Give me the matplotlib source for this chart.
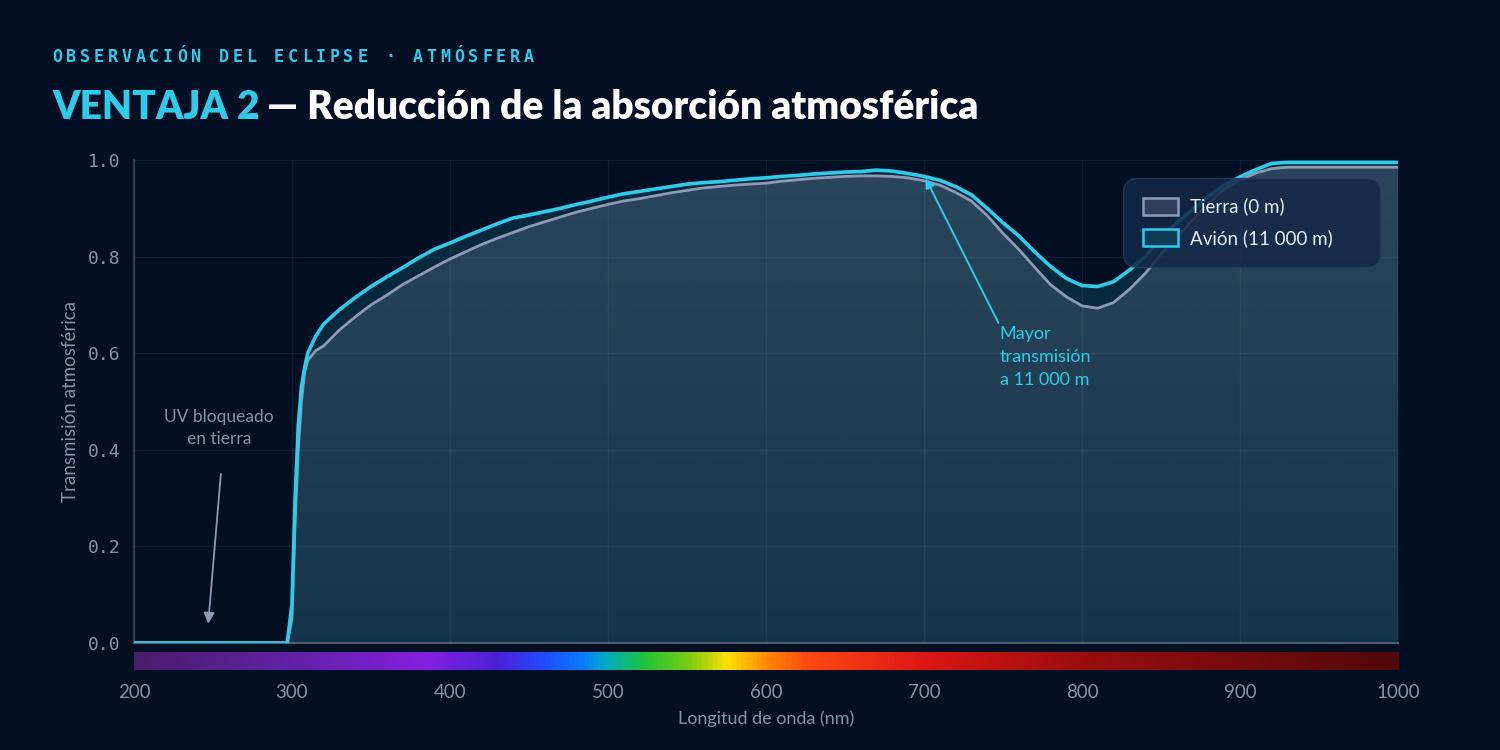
import matplotlib
matplotlib.use("Agg")
import matplotlib.pyplot as plt
import numpy as np
from matplotlib.colors import LinearSegmentedColormap, to_rgb
from matplotlib.patches import Patch

# ---- data ----
wavelength = [200, 290, 297, 300, 302, 304, 306, 308, 310, 315, 320, 330, 340, 350, 360, 370, 380, 390,
              400, 410, 420, 430, 440, 450, 460, 470, 480, 490, 500, 510, 520, 530, 540, 550, 560, 570,
              580, 590, 600, 610, 620, 630, 640, 650, 660, 670, 680, 690, 700, 710, 720, 730, 740, 750,
              760, 770, 780, 790, 800, 810, 820, 830, 840, 850, 860, 870, 880, 890, 900, 910, 920, 930,
              950, 1000]
avion = [0, 0, 0, 0.08, 0.30, 0.45, 0.53, 0.57, 0.60, 0.635, 0.66, 0.69, 0.715, 0.738, 0.758, 0.777, 0.797, 0.815,
         0.828, 0.842, 0.855, 0.868, 0.880, 0.886, 0.893, 0.900, 0.908, 0.915, 0.923, 0.930, 0.935, 0.940, 0.945, 0.950, 0.953, 0.955,
         0.958, 0.961, 0.963, 0.966, 0.968, 0.971, 0.973, 0.975, 0.976, 0.979, 0.977, 0.972, 0.966, 0.958, 0.945, 0.928, 0.900, 0.870,
         0.843, 0.810, 0.780, 0.755, 0.740, 0.738, 0.748, 0.772, 0.800, 0.838, 0.870, 0.897, 0.925, 0.948, 0.965, 0.980, 0.993, 0.995,
         0.995, 0.995]
tierra = [0, 0, 0, 0.05, 0.25, 0.40, 0.50, 0.56, 0.585, 0.605, 0.615, 0.648, 0.675, 0.700, 0.720, 0.742, 0.760, 0.778,
          0.795, 0.810, 0.825, 0.838, 0.850, 0.862, 0.872, 0.882, 0.892, 0.900, 0.908, 0.915, 0.920, 0.926, 0.932, 0.937, 0.942, 0.945,
          0.948, 0.950, 0.952, 0.956, 0.959, 0.962, 0.964, 0.966, 0.967, 0.967, 0.966, 0.963, 0.957, 0.948, 0.933, 0.915, 0.885, 0.848,
          0.815, 0.778, 0.742, 0.717, 0.698, 0.693, 0.705, 0.732, 0.765, 0.805, 0.840, 0.875, 0.910, 0.940, 0.958, 0.973, 0.982, 0.985,
          0.985, 0.985]
series_labels = ["Tierra (0 m)", "Avión (11\u202f000 m)"]
x_ticks = [200, 300, 400, 500, 600, 700, 800, 900, 1000]
y_ticks = [0.0, 0.2, 0.4, 0.6, 0.8, 1.0]

BG = "#050f24"
CYAN = "#2fcbea"
SLATE = "#8c9cb6"
MUTED = "#8493ad"

plt.rcParams['font.family'] = ['Lato', 'DejaVu Sans']

fig = plt.figure(figsize=(15, 7.5), dpi=100, facecolor=BG)
ax = fig.add_axes([0.0893, 0.1427, 0.8427, 0.644])
ax.set_facecolor(BG)

x = np.array(wavelength)
ya = np.array(avion)
yt = np.array(tierra)

# fills
ax.fill_between(x, 0, ya, color="#22d3ee", alpha=0.13, lw=0, zorder=1)
poly = ax.fill_between(x, 0, yt, facecolor="none", lw=0, zorder=2)
grad = np.zeros((256, 2, 4))
c = to_rgb("#94a3b8")
grad[..., 0], grad[..., 1], grad[..., 2] = c
grad[..., 3] = np.linspace(0.25, 0.10, 256)[:, None]
im = ax.imshow(grad, extent=[200, 1000, 0, 1], origin="upper", aspect="auto", zorder=2)
im.set_clip_path(poly.get_paths()[0], transform=ax.transData)

ax.plot(x, yt, color=SLATE, lw=2.0, zorder=4, solid_joinstyle="round")
ax.plot(x, ya, color=CYAN, lw=2.6, zorder=5, solid_joinstyle="round")

ax.set_xlim(200, 1000)
ax.set_ylim(0, 1.0)
ax.set_xticks(x_ticks)
ax.set_yticks(y_ticks)
ax.set_yticklabels(["%.1f" % v for v in y_ticks], family="DejaVu Sans Mono", fontsize=13, color=MUTED)
ax.tick_params(axis="x", length=0, labelbottom=False)
ax.tick_params(axis="y", length=0, pad=10)
ax.grid(True, color="white", alpha=0.06, lw=1, zorder=3)
ax.set_axisbelow(False)
for s in ["top", "right"]:
    ax.spines[s].set_visible(False)
ax.spines["left"].set_color("#34435a")
ax.spines["bottom"].set_color("#4c5c74")
ax.spines["left"].set_linewidth(1.2)
ax.spines["bottom"].set_linewidth(1.5)
ax.set_ylabel("Transmisión atmosférica", color=MUTED, fontsize=13.5, labelpad=6)

# annotations
ax.annotate("Mayor\ntransmisión\na 11\u202f000 m", xy=(701, 0.962), xytext=(748, 0.657),
            color=CYAN, fontsize=13, ha="left", va="top", linespacing=1.55,
            arrowprops=dict(arrowstyle="-|>", color=CYAN, lw=1.4, shrinkA=0, shrinkB=0,
                            mutation_scale=14, relpos=(0, 1)), zorder=6)
ax.annotate("", xy=(247, 0.04), xytext=(255, 0.35),
            arrowprops=dict(arrowstyle="-|>", color=SLATE, lw=1.3, shrinkA=0, shrinkB=0,
                            mutation_scale=16), zorder=6)
ax.text(254, 0.445, "UV bloqueado\nen tierra", color=MUTED, fontsize=12.5, ha="center", va="center",
        linespacing=1.4)

# legend (fixed-width box, content left aligned)
handles = [Patch(facecolor="#2e3e5b", edgecolor=SLATE, lw=1.8),
           Patch(facecolor="#0f3a55", edgecolor=CYAN, lw=1.8)]
leg = ax.legend(handles, series_labels, loc="upper left", bbox_to_anchor=(0.7824, 0.7826, 0.2033, 0.18),
                mode="expand", frameon=True, fontsize=13.5, labelcolor="#e6ecf4", handlelength=1.9,
                handleheight=1.0, borderpad=1.05, labelspacing=0.72, handletextpad=0.65, borderaxespad=0)
frame = leg.get_frame()
frame.set_facecolor("#132848")
frame.set_alpha(0.85)
frame.set_edgecolor("#2a3d5c")
frame.set_boxstyle("round,pad=0,rounding_size=0.8")
leg.set_zorder(7)

# spectrum strip
sax = fig.add_axes([0.0893, 0.1067, 0.8427, 0.024])
spec_stops = [(200, "#4b1d6c"), (300, "#6222a6"), (385, "#8420e0"), (430, "#4a22d8"), (460, "#1e50ff"),
              (482, "#0a78ff"), (497, "#00aacc"), (522, "#1cc43a"), (552, "#80cc10"), (575, "#ffe000"),
              (600, "#ff8a00"), (625, "#ff4a10"), (700, "#de1616"), (800, "#9a0e10"), (1000, "#520909")]
cmap = LinearSegmentedColormap.from_list("spec", [((w - 200) / 800, col) for w, col in spec_stops])
sax.imshow(np.linspace(0, 1, 800)[None, :], cmap=cmap, aspect="auto", extent=[200, 1000, 0, 1])
sax.set_xlim(200, 1000)
sax.set_yticks([])
sax.set_xticks(x_ticks)
sax.tick_params(axis="x", length=0, pad=10, labelsize=13.5, labelcolor=MUTED)
for s in sax.spines.values():
    s.set_visible(False)
sax.set_xlabel("Longitud de onda (nm)", color=MUTED, fontsize=13, labelpad=7)

# header: spaced monospace kicker + two-tone title
kicker = "OBSERVACIÓN DEL ECLIPSE · ATMÓSFERA"
for i, ch in enumerate(kicker):
    fig.text(0.0347 + i * 0.00925, 0.924, ch, color=CYAN, fontsize=12, fontweight="bold",
             family="DejaVu Sans Mono", va="center", ha="left")
t1 = fig.text(0.0347, 0.857, "VENTAJA 2", color=CYAN, fontsize=28, fontweight="heavy", va="center")
fig.canvas.draw()
bb = t1.get_window_extent()
fig.text(bb.x1 / fig.bbox.width + 0.005, 0.857, "— Reducción de la absorción atmosférica",
         color="white", fontsize=28, fontweight="heavy", va="center")

fig.savefig("out.png", dpi=100, facecolor=BG)
